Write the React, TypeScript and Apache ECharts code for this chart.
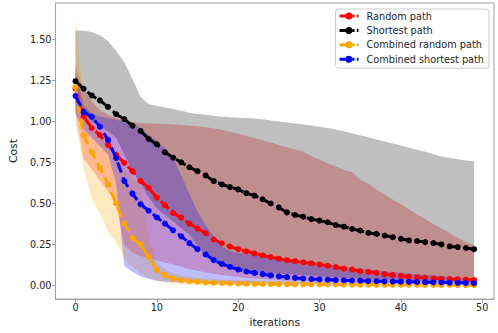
import React, { useEffect, useRef } from "react";
import * as echarts from "echarts";

// ---------- data ----------
const iterations: number[] = Array.from({ length: 50 }, (_, i) => i);

const xTicks = [0, 10, 20, 30, 40, 50];
const yTicks = [0, 0.25, 0.5, 0.75, 1.0, 1.25, 1.5];

const seriesNames = ["Random path", "Shortest path", "Combined random path", "Combined shortest path"];
const seriesColors = ["#ff0000", "#000000", "#ffa500", "#0000ff"];
const bandColors = ["rgba(255,0,0,0.25)", "rgba(0,0,0,0.25)", "rgba(255,165,0,0.25)", "rgba(0,0,255,0.25)"];

// Random path (red)
const randomMean = [
  1.2, 1.03, 0.96, 0.917, 0.857, 0.797, 0.747, 0.697, 0.637, 0.596,
  0.536, 0.49, 0.443, 0.414, 0.378, 0.348, 0.32, 0.281, 0.258, 0.238,
  0.222, 0.209, 0.196, 0.184, 0.174, 0.164, 0.155, 0.149, 0.142, 0.136,
  0.129, 0.121, 0.113, 0.104, 0.098, 0.088, 0.084, 0.078, 0.07, 0.064,
  0.06, 0.054, 0.05, 0.048, 0.044, 0.042, 0.04, 0.038, 0.036, 0.034,
];
const randomHigh = [
  1.34, 1.2, 1.12, 1.07, 1.04, 1.02, 1.005, 0.995, 0.99, 0.988,
  0.986, 0.984, 0.981, 0.978, 0.974, 0.97, 0.965, 0.958, 0.948, 0.937,
  0.925, 0.912, 0.898, 0.885, 0.871, 0.857, 0.843, 0.829, 0.815, 0.79,
  0.768, 0.745, 0.725, 0.705, 0.69, 0.645, 0.62, 0.585, 0.556, 0.525,
  0.496, 0.465, 0.435, 0.405, 0.375, 0.35, 0.32, 0.29, 0.265, 0.245,
];
const randomLow = [
  1.05, 0.77, 0.71, 0.64, 0.576, 0.5, 0.25, 0.2, 0.18, 0.17,
  0.155, 0.14, 0.13, 0.115, 0.1, 0.09, 0.08, 0.072, 0.065, 0.058,
  0.052, 0.047, 0.043, 0.04, 0.037, 0.034, 0.032, 0.03, 0.028, 0.026,
  0.025, 0.024, 0.024, 0.023, 0.023, 0.022, 0.022, 0.021, 0.021, 0.02,
  0.02, 0.019, 0.019, 0.018, 0.018, 0.018, 0.017, 0.017, 0.017, 0.016,
];

// Shortest path (black)
const shortestMean = [
  1.245, 1.199, 1.158, 1.128, 1.088, 1.044, 1.014, 0.974, 0.942, 0.893,
  0.861, 0.812, 0.779, 0.751, 0.721, 0.697, 0.671, 0.636, 0.616, 0.6,
  0.586, 0.563, 0.548, 0.526, 0.5, 0.476, 0.446, 0.43, 0.42, 0.405,
  0.396, 0.386, 0.369, 0.359, 0.345, 0.335, 0.321, 0.315, 0.305, 0.295,
  0.285, 0.275, 0.271, 0.265, 0.259, 0.251, 0.239, 0.235, 0.229, 0.222,
];
const shortestHigh = [
  1.554, 1.552, 1.545, 1.525, 1.49, 1.43, 1.36, 1.26, 1.15, 1.105,
  1.095, 1.085, 1.075, 1.065, 1.052, 1.045, 1.04, 1.034, 1.029, 1.025,
  1.022, 1.02, 1.018, 1.013, 1.006, 1.0, 0.994, 0.988, 0.981, 0.975,
  0.968, 0.96, 0.95, 0.94, 0.928, 0.916, 0.903, 0.89, 0.878, 0.866,
  0.853, 0.84, 0.827, 0.815, 0.8, 0.787, 0.777, 0.769, 0.762, 0.757,
];
const shortestLow = [
  1.1, 1.05, 1.0, 0.97, 0.94, 0.9, 0.8, 0.7, 0.62, 0.54,
  0.47, 0.43, 0.39, 0.35, 0.31, 0.24, 0.18, 0.15, 0.12, 0.105,
  0.097, 0.09, 0.084, 0.08, 0.076, 0.072, 0.069, 0.066, 0.063, 0.06,
  0.056, 0.053, 0.05, 0.047, 0.045, 0.043, 0.041, 0.039, 0.037, 0.035,
  0.033, 0.031, 0.03, 0.028, 0.027, 0.026, 0.025, 0.024, 0.023, 0.022,
];

// Combined random path (orange)
const combRandomMean = [
  1.21, 0.917, 0.812, 0.717, 0.615, 0.5, 0.38, 0.29, 0.251, 0.175,
  0.095, 0.064, 0.044, 0.034, 0.028, 0.024, 0.02, 0.018, 0.016, 0.014,
  0.013, 0.012, 0.011, 0.01, 0.01, 0.009, 0.009, 0.008, 0.008, 0.008,
  0.007, 0.007, 0.007, 0.006, 0.006, 0.006, 0.006, 0.005, 0.005, 0.005,
  0.005, 0.005, 0.004, 0.004, 0.004, 0.004, 0.004, 0.003, 0.003, 0.003,
];
const combRandomHigh = [
  1.64, 1.12, 1.0, 0.93, 0.86, 0.78, 0.7, 0.66, 0.6, 0.3,
  0.14, 0.1, 0.075, 0.06, 0.052, 0.047, 0.043, 0.04, 0.037, 0.035,
  0.033, 0.031, 0.03, 0.028, 0.027, 0.026, 0.025, 0.024, 0.023, 0.022,
  0.021, 0.02, 0.02, 0.019, 0.018, 0.018, 0.017, 0.017, 0.016, 0.016,
  0.015, 0.015, 0.014, 0.014, 0.013, 0.013, 0.013, 0.012, 0.012, 0.012,
];
const combRandomLow = [
  1.0, 0.72, 0.53, 0.44, 0.33, 0.26, 0.17, 0.11, 0.075, 0.048,
  0.03, 0.02, 0.012, 0.008, 0.006, 0.004, 0.003, 0.002, 0.002, 0.001,
  0.001, 0.001, 0.001, 0.001, 0.001, 0.001, 0.001, 0.001, 0.001, 0.001,
  0.0, 0.0, 0.0, 0.0, 0.0, 0.0, 0.0, 0.0, 0.0, 0.0,
  0.0, 0.0, 0.0, 0.0, 0.0, 0.0, 0.0, 0.0, 0.0, 0.0,
];

// Combined shortest path (blue)
const combShortestMean = [
  1.155, 1.058, 1.028, 0.968, 0.887, 0.777, 0.637, 0.56, 0.496, 0.456,
  0.416, 0.378, 0.337, 0.3, 0.259, 0.222, 0.19, 0.155, 0.132, 0.114,
  0.098, 0.086, 0.078, 0.07, 0.062, 0.056, 0.052, 0.047, 0.043, 0.04,
  0.038, 0.036, 0.034, 0.032, 0.031, 0.03, 0.028, 0.027, 0.026, 0.025,
  0.024, 0.023, 0.022, 0.021, 0.02, 0.019, 0.018, 0.017, 0.016, 0.015,
];
const combShortestHigh = [
  1.3, 1.1, 1.05, 1.03, 1.02, 1.01, 1.0, 0.99, 0.96, 0.917,
  0.88, 0.837, 0.78, 0.67, 0.56, 0.45, 0.37, 0.3, 0.24, 0.21,
  0.2, 0.192, 0.186, 0.18, 0.174, 0.167, 0.16, 0.152, 0.145, 0.138,
  0.131, 0.125, 0.119, 0.114, 0.108, 0.103, 0.098, 0.093, 0.088, 0.083,
  0.079, 0.075, 0.07, 0.066, 0.062, 0.058, 0.054, 0.05, 0.047, 0.044,
];
const combShortestLow = [
  1.05, 0.95, 0.9, 0.85, 0.8, 0.62, 0.12, 0.085, 0.055, 0.04,
  0.03, 0.025, 0.022, 0.02, 0.019, 0.018, 0.017, 0.016, 0.015, 0.015,
  0.014, 0.014, 0.013, 0.013, 0.012, 0.012, 0.012, 0.011, 0.011, 0.011,
  0.011, 0.01, 0.01, 0.01, 0.01, 0.01, 0.01, 0.009, 0.009, 0.009,
  0.009, 0.009, 0.009, 0.008, 0.008, 0.008, 0.008, 0.008, 0.008, 0.008,
];

const means = [randomMean, shortestMean, combRandomMean, combShortestMean];
const highs = [randomHigh, shortestHigh, combRandomHigh, combShortestHigh];
const lows = [randomLow, shortestLow, combRandomLow, combShortestLow];

// ---------- chart ----------
const FONT = "DejaVu Sans";
const SPINE = "#a0a0a0";
const TEXT = "#262626";
const LEGEND_ICON =
  "path://M0,2 L5.8,2 L5.8,5 L0,5 Z M12.8,2 L15,2 L15,5 L12.8,5 Z M17.3,2 L19,2 L19,5 L17.3,5 Z M5.8,3.5 A3.5,3.5 0 1 1 12.8,3.5 A3.5,3.5 0 1 1 5.8,3.5 Z";

function buildOption() {
  const series: any[] = [];
  seriesNames.forEach((name, k) => {
    series.push({
      type: "custom",
      name: name + " band",
      silent: true,
      z: 1,
      data: iterations.map((x, i) => [x, lows[k][i], highs[k][i]]),
      encode: { x: 0, y: [1, 2] },
      renderItem: (params: any, api: any) => {
        if (params.dataIndex !== 0) return null;
        const pts: number[][] = [];
        for (let i = 0; i < iterations.length; i++) pts.push(api.coord([iterations[i], highs[k][i]]));
        for (let i = iterations.length - 1; i >= 0; i--) pts.push(api.coord([iterations[i], lows[k][i]]));
        return {
          type: "polygon",
          shape: { points: pts },
          style: { fill: bandColors[k], stroke: "none" },
          silent: true,
        };
      },
    });
  });
  seriesNames.forEach((name, k) => {
    series.push({
      type: "line",
      name,
      data: iterations.map((x, i) => [x, means[k][i]]),
      symbol: "circle",
      symbolSize: 6,
      itemStyle: { color: seriesColors[k] },
      lineStyle: { color: seriesColors[k], width: 3, type: [11, 5] },
      z: 3 + k,
    });
  });

  return {
    animation: false,
    textStyle: { fontFamily: FONT },
    grid: {
      left: 42,
      top: 3,
      width: 452,
      height: 300,
      show: true,
      borderColor: SPINE,
      borderWidth: 1,
      backgroundColor: "transparent",
      containLabel: false,
    },
    legend: {
      data: seriesNames,
      orient: "vertical",
      right: 9,
      top: 9,
      icon: LEGEND_ICON,
      itemWidth: 19,
      itemHeight: 7,
      itemGap: 0.4,
      padding: [0, 5, 2, 4],
      backgroundColor: "rgba(255,255,255,0.8)",
      borderColor: "#cccccc",
      borderWidth: 1,
      borderRadius: 3,
      selectedMode: false,
      textStyle: { fontFamily: FONT, fontSize: 9.72, color: TEXT, lineHeight: 14, padding: [0, 0, 0, 3] },
    },
    xAxis: {
      type: "value",
      min: -2.45,
      max: 51.45,
      name: "iterations",
      nameLocation: "middle",
      nameGap: 14,
      nameTextStyle: { fontFamily: FONT, fontSize: 10.69, color: TEXT },
      axisLine: { show: true, onZero: false, lineStyle: { color: SPINE, width: 1 } },
      axisTick: { show: true, inside: false, length: 3.5, customValues: xTicks, lineStyle: { color: SPINE } },
      axisLabel: {
        customValues: xTicks,
        margin: 3,
        fontFamily: FONT,
        fontSize: 9.72,
        color: TEXT,
        formatter: (v: number) => String(v),
      },
      splitLine: { show: false },
    },
    yAxis: {
      type: "value",
      min: -0.082,
      max: 1.721,
      name: "Cost",
      nameLocation: "middle",
      nameGap: 34,
      nameTextStyle: { fontFamily: FONT, fontSize: 10.69, color: TEXT },
      axisLine: { show: true, onZero: false, lineStyle: { color: SPINE, width: 1 } },
      axisTick: { show: true, inside: false, length: 3.5, customValues: yTicks, lineStyle: { color: SPINE } },
      axisLabel: {
        customValues: yTicks,
        margin: 4,
        fontFamily: FONT,
        fontSize: 9.72,
        color: TEXT,
        formatter: (v: number) => v.toFixed(2),
      },
      splitLine: { show: false },
    },
    series,
  };
}

export default function App() {
  const ref = useRef<HTMLDivElement>(null);
  useEffect(() => {
    if (!ref.current) return;
    const chart = echarts.init(ref.current, undefined, { renderer: "svg" });
    chart.setOption(buildOption() as any);
    return () => chart.dispose();
  }, []);
  return (
    <div
      ref={ref}
      style={{ position: "fixed", left: 0, top: 0, width: 498, height: 333, background: "#ffffff" }}
    />
  );
}
